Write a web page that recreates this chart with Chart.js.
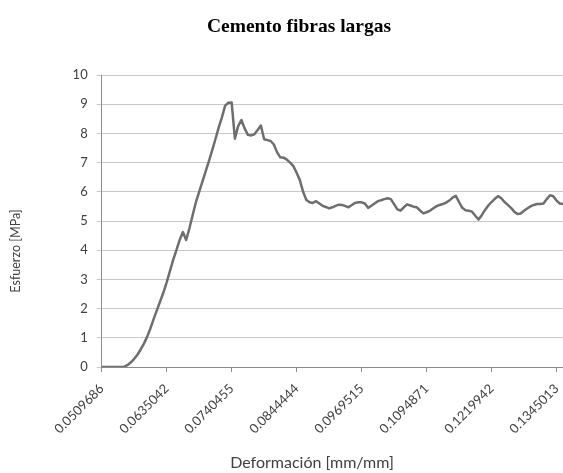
<!DOCTYPE html>
<html lang="es">
<head>
<meta charset="UTF-8">
<title>Cemento fibras largas</title>
<style>
  html, body { margin: 0; padding: 0; background: #fff; overflow: hidden; }
  #chart-container { width: 563px; height: 473px; }
</style>
</head>
<body>
<div id="chart-container">
  <canvas id="stress-chart" width="563" height="473"></canvas>
</div>
<script src="https://cdn.jsdelivr.net/npm/chart.js"></script>
<script>
const chartTitle = 'Cemento fibras largas';
const xAxisTitle = 'Deformación [mm/mm]';
const yAxisTitle = 'Esfuerzo [MPa]';

// strain values printed under the axis (one every 20 readings)
const tickLabels = ['0.0509686', '0.0635042', '0.0740455', '0.0844444',
                    '0.0969515', '0.1094871', '0.1219942', '0.1345013'];
const readingsPerLabel = 20;

// stress readings [MPa]
const stress = [
  0, 0, 0, 0, 0, 0, 0, 0.01, 0.07, 0.16,
  0.28, 0.42, 0.6, 0.8, 1.04, 1.32, 1.65, 1.95, 2.25, 2.55,
  2.9, 3.28, 3.67, 4.0, 4.35, 4.62, 4.35, 4.75, 5.2, 5.65,
  6.0, 6.35, 6.7, 7.05, 7.42, 7.8, 8.2, 8.55, 8.95, 9.05,
  9.06, 7.82, 8.25, 8.46, 8.17, 7.95, 7.93, 7.97, 8.12, 8.27,
  7.8, 7.77, 7.74, 7.62, 7.35, 7.18, 7.17, 7.1, 7.0, 6.88,
  6.65, 6.4, 6.0, 5.72, 5.64, 5.62, 5.68, 5.6, 5.52, 5.48,
  5.43, 5.47, 5.52, 5.56, 5.55, 5.51, 5.47, 5.55, 5.62, 5.64,
  5.64, 5.6, 5.45, 5.52, 5.6, 5.68, 5.71, 5.75, 5.78, 5.75,
  5.58, 5.4, 5.36, 5.47, 5.57, 5.53, 5.49, 5.47, 5.36, 5.26,
  5.3, 5.35, 5.43, 5.5, 5.55, 5.58, 5.63, 5.7, 5.8, 5.86,
  5.65, 5.45, 5.37, 5.35, 5.32, 5.18, 5.05, 5.2, 5.38, 5.53,
  5.65, 5.76, 5.85, 5.78, 5.65, 5.55, 5.45, 5.32, 5.24, 5.26,
  5.35, 5.43, 5.5, 5.55, 5.58, 5.58, 5.6, 5.75, 5.88, 5.85,
  5.7, 5.6, 5.58
];

// category labels: only every 20th reading carries a printed strain value
const categories = stress.map((v, i) =>
  i % readingsPerLabel === 0 ? (tickLabels[i / readingsPerLabel] || '') : '');

const axisGrey = '#8c8c8c';
const gridGrey = '#c8c8c8';
const textGrey = '#404040';

// axis titles sit where the spreadsheet put them, not centred on the plot
const axisTitles = {
  id: 'axisTitles',
  afterDraw(chart) {
    const ctx = chart.ctx;
    ctx.save();
    ctx.fillStyle = textGrey;
    ctx.textAlign = 'center';
    ctx.textBaseline = 'middle';
    ctx.font = '16px Lato';
    ctx.fillText(xAxisTitle, 312, 463);
    ctx.translate(15.5, 251);
    ctx.rotate(-Math.PI / 2);
    ctx.font = '12.5px Lato';
    ctx.fillText(yAxisTitle, 0, 0);
    ctx.restore();
  }
};

Chart.defaults.font.family = 'Lato';

new Chart(document.getElementById('stress-chart'), {
  type: 'line',
  data: {
    labels: categories,
    datasets: [{
      data: stress,
      borderColor: '#6e6e6e',
      borderWidth: 2.5,
      borderJoinStyle: 'round',
      pointRadius: 0,
      tension: 0,
      fill: false
    }]
  },
  options: {
    responsive: false,
    animation: false,
    layout: { padding: { left: 35, right: 0, top: 0, bottom: 0 } },
    plugins: {
      legend: { display: false },
      tooltip: { enabled: false },
      title: {
        display: true,
        text: chartTitle,
        color: '#000',
        font: { family: "'Liberation Serif', serif", size: 19.5, weight: 'bold' },
        padding: { top: 15, bottom: 36.6 }
      }
    },
    scales: {
      x: {
        offset: false,
        grid: {
          drawOnChartArea: false,
          drawTicks: true,
          tickLength: 5,
          color: ctx => ctx.index % readingsPerLabel === 0 ? axisGrey : 'rgba(0,0,0,0)'
        },
        border: { display: true, color: axisGrey },
        ticks: {
          autoSkip: false,
          maxRotation: 45,
          minRotation: 45,
          padding: 9,
          color: textGrey,
          font: { size: 13 }
        },
        afterFit(scale) {
          scale.height = 106;
          scale.paddingLeft = 0;
          scale.paddingRight = 0;
        }
      },
      y: {
        min: 0,
        max: 10,
        grid: { color: gridGrey, tickLength: 5, drawTicks: true },
        border: { display: true, color: axisGrey },
        ticks: { stepSize: 1, padding: 9, color: textGrey, font: { size: 13 } },
        afterFit(scale) {
          scale.width = 66.7;
        }
      }
    }
  },
  plugins: [axisTitles]
});
</script>
</body>
</html>
